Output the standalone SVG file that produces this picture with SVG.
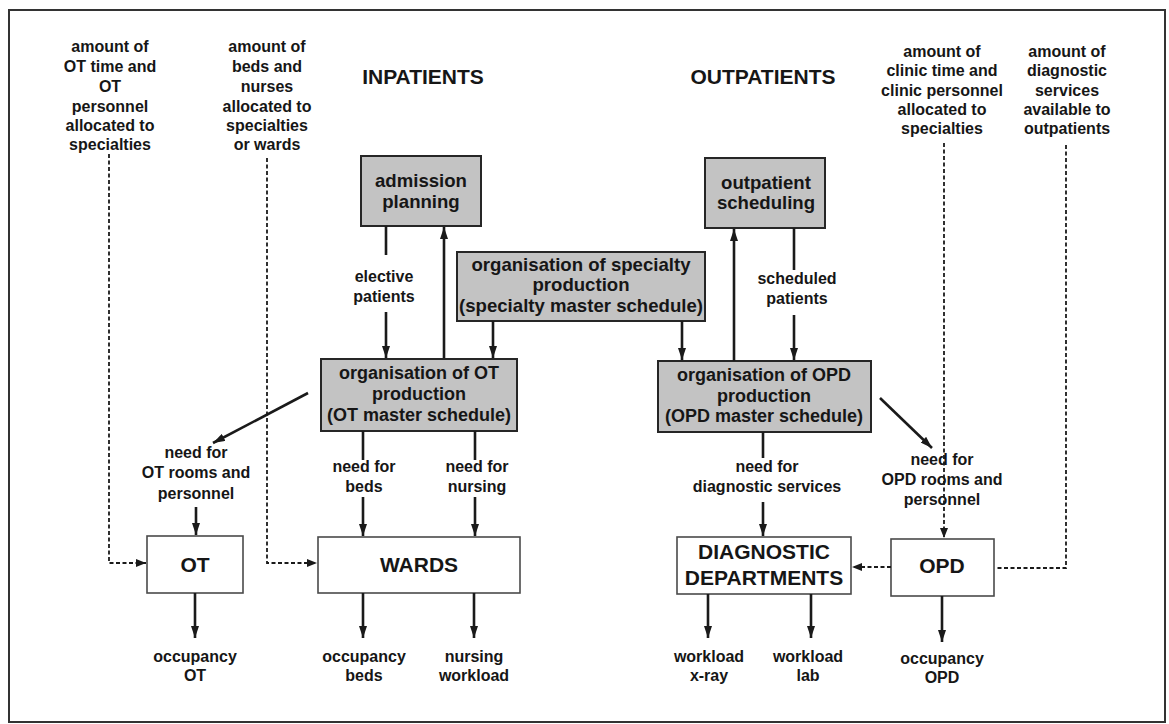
<svg xmlns="http://www.w3.org/2000/svg" width="1169" height="724" viewBox="0 0 1169 724">
  <style>
    text { font-family: "Liberation Sans", Arial, Helvetica, sans-serif; font-weight: bold; fill: #161616; text-anchor: middle; }
    .lbl { font-size: 16px; }
    .box { font-size: 18px; }
    .wide { font-size: 18.6px; }
    .big { font-size: 21px; }
    .title { font-size: 21px; }
    .shade { fill: #c3c3c3; stroke: #262626; stroke-width: 2; }
    .plain { fill: #ffffff; stroke: #4a4a4a; stroke-width: 1.6; }
    .flow { fill: none; stroke: #1a1a1a; stroke-width: 2.6; }
    .dash { fill: none; stroke: #1a1a1a; stroke-width: 1.8; stroke-dasharray: 4 2.5; }
  </style>
  <defs>
    <marker id="arrow" viewBox="0 0 12 8" refX="12" refY="4" markerWidth="12" markerHeight="8" markerUnits="userSpaceOnUse" orient="auto">
      <path d="M0,0 L12,4 L0,8 z" fill="#1a1a1a"/>
    </marker>
    <marker id="arrowSmall" viewBox="0 0 10 8" refX="10" refY="4" markerWidth="10" markerHeight="8" markerUnits="userSpaceOnUse" orient="auto">
      <path d="M0,0 L10,4 L0,8 z" fill="#1a1a1a"/>
    </marker>
  </defs>

  <rect width="1169" height="724" fill="#ffffff"/>
  <!-- outer frame -->
  <rect x="9" y="10" width="1156" height="712" fill="none" stroke="#333" stroke-width="2"/>

  <!-- section headings -->
  <text class="title" x="423" y="84">INPATIENTS</text>
  <text class="title" x="763" y="84">OUTPATIENTS</text>

  <!-- capacity inputs -->
  <g id="in-ot-capacity">
    <text class="lbl" x="110" y="52">amount of</text>
    <text class="lbl" x="110" y="72">OT time and</text>
    <text class="lbl" x="110" y="92">OT</text>
    <text class="lbl" x="110" y="112">personnel</text>
    <text class="lbl" x="110" y="131">allocated to</text>
    <text class="lbl" x="110" y="150">specialties</text>
  </g>
  <g id="in-ward-capacity">
    <text class="lbl" x="267" y="52">amount of</text>
    <text class="lbl" x="267" y="72">beds and</text>
    <text class="lbl" x="267" y="92">nurses</text>
    <text class="lbl" x="267" y="112">allocated to</text>
    <text class="lbl" x="267" y="131">specialties</text>
    <text class="lbl" x="267" y="150">or wards</text>
  </g>
  <g id="in-clinic-capacity">
    <text class="lbl" x="942" y="57">amount of</text>
    <text class="lbl" x="942" y="76">clinic time and</text>
    <text class="lbl" x="942" y="96">clinic personnel</text>
    <text class="lbl" x="942" y="115">allocated to</text>
    <text class="lbl" x="942" y="134">specialties</text>
  </g>
  <g id="in-diagnostic-capacity">
    <text class="lbl" x="1067" y="57">amount of</text>
    <text class="lbl" x="1067" y="76">diagnostic</text>
    <text class="lbl" x="1067" y="96">services</text>
    <text class="lbl" x="1067" y="115">available to</text>
    <text class="lbl" x="1067" y="134">outpatients</text>
  </g>

  <!-- planning boxes -->
  <g id="admission-planning">
    <rect class="shade" x="361" y="156" width="120" height="70"/>
    <text class="wide" x="421" y="187">admission</text>
    <text class="wide" x="421" y="208">planning</text>
  </g>
  <g id="outpatient-scheduling">
    <rect class="shade" x="705" y="158" width="120" height="70"/>
    <text class="wide" x="766" y="189">outpatient</text>
    <text class="wide" x="766" y="209">scheduling</text>
  </g>
  <g id="specialty-production">
    <rect class="shade" x="457" y="252" width="248" height="69"/>
    <text class="wide" x="581" y="271">organisation of specialty</text>
    <text class="wide" x="581" y="291">production</text>
    <text class="wide" x="581" y="312">(specialty master schedule)</text>
  </g>
  <g id="ot-production">
    <rect class="shade" x="321" y="359" width="196" height="72"/>
    <text class="box" x="419" y="379">organisation of OT</text>
    <text class="box" x="419" y="400">production</text>
    <text class="box" x="419" y="421">(OT master schedule)</text>
  </g>
  <g id="opd-production">
    <rect class="shade" x="658" y="361" width="213" height="71"/>
    <text class="box" x="764" y="381">organisation of OPD</text>
    <text class="box" x="764" y="402">production</text>
    <text class="box" x="764" y="422">(OPD master schedule)</text>
  </g>

  <!-- departments -->
  <g id="ot">
    <rect class="plain" x="147" y="536" width="96" height="57"/>
    <text class="big" x="195" y="572">OT</text>
  </g>
  <g id="wards">
    <rect class="plain" x="318" y="537" width="202" height="56"/>
    <text class="big" x="419" y="572">WARDS</text>
  </g>
  <g id="diagnostic-departments">
    <rect class="plain" x="677" y="537" width="174" height="57"/>
    <text class="big" x="764" y="559">DIAGNOSTIC</text>
    <text class="big" x="764" y="585">DEPARTMENTS</text>
  </g>
  <g id="opd">
    <rect class="plain" x="891" y="539" width="103" height="57"/>
    <text class="big" x="942" y="573">OPD</text>
  </g>

  <!-- flow labels -->
  <g id="flow-labels">
    <text class="lbl" x="384" y="282">elective</text>
    <text class="lbl" x="384" y="302">patients</text>
    <text class="lbl" x="797" y="284">scheduled</text>
    <text class="lbl" x="797" y="304">patients</text>
    <text class="lbl" x="196" y="458">need for</text>
    <text class="lbl" x="196" y="478">OT rooms and</text>
    <text class="lbl" x="196" y="499">personnel</text>
    <text class="lbl" x="364" y="472">need for</text>
    <text class="lbl" x="364" y="492">beds</text>
    <text class="lbl" x="477" y="472">need for</text>
    <text class="lbl" x="477" y="492">nursing</text>
    <text class="lbl" x="767" y="472">need for</text>
    <text class="lbl" x="767" y="492">diagnostic services</text>
    <text class="lbl" x="942" y="465">need for</text>
    <text class="lbl" x="942" y="485">OPD rooms and</text>
    <text class="lbl" x="942" y="505">personnel</text>
  </g>

  <!-- outputs -->
  <g id="out-ot">
    <text class="lbl" x="195" y="662">occupancy</text>
    <text class="lbl" x="195" y="681">OT</text>
  </g>
  <g id="out-beds">
    <text class="lbl" x="364" y="662">occupancy</text>
    <text class="lbl" x="364" y="681">beds</text>
  </g>
  <g id="out-nursing">
    <text class="lbl" x="474" y="662">nursing</text>
    <text class="lbl" x="474" y="681">workload</text>
  </g>
  <g id="out-xray">
    <text class="lbl" x="709" y="662">workload</text>
    <text class="lbl" x="709" y="681">x-ray</text>
  </g>
  <g id="out-lab">
    <text class="lbl" x="808" y="662">workload</text>
    <text class="lbl" x="808" y="681">lab</text>
  </g>
  <g id="out-opd">
    <text class="lbl" x="942" y="664">occupancy</text>
    <text class="lbl" x="942" y="683">OPD</text>
  </g>

  <!-- connectors -->
  <g id="connectors">
    <!-- capacity allocations (dashed) -->
    <path class="dash" d="M109,154 V563 H146" marker-end="url(#arrowSmall)"/>
    <path class="dash" d="M267,158 V563 H317" marker-end="url(#arrowSmall)"/>
    <path class="dash" d="M944,143 V538" marker-end="url(#arrowSmall)"/>
    <path class="dash" d="M1066,145 V568 H995"/>
    <path class="dash" d="M891,567 H852" marker-end="url(#arrowSmall)"/>

    <!-- inpatient planning -->
    <path class="flow" d="M386,226 V255"/>
    <path class="flow" d="M386,312 V358" marker-end="url(#arrow)"/>
    <path class="flow" d="M444,358 V227" marker-end="url(#arrow)"/>
    <path class="flow" d="M493,321 V358" marker-end="url(#arrow)"/>
    <path class="flow" d="M682,321 V360" marker-end="url(#arrow)"/>

    <!-- outpatient planning -->
    <path class="flow" d="M734,361 V229" marker-end="url(#arrow)"/>
    <path class="flow" d="M794,228 V270"/>
    <path class="flow" d="M794,315 V360" marker-end="url(#arrow)"/>

    <!-- OT production needs -->
    <path class="flow" d="M308,393 L213,443" marker-end="url(#arrow)"/>
    <path class="flow" d="M196,507 V535" marker-end="url(#arrow)"/>
    <path class="flow" d="M363,431 V460"/>
    <path class="flow" d="M363,497 V536" marker-end="url(#arrow)"/>
    <path class="flow" d="M475,431 V460"/>
    <path class="flow" d="M475,497 V536" marker-end="url(#arrow)"/>

    <!-- OPD production needs -->
    <path class="flow" d="M763,432 V458"/>
    <path class="flow" d="M763,502 V536" marker-end="url(#arrow)"/>
    <path class="flow" d="M880,398 L932,448" marker-end="url(#arrow)"/>

    <!-- workload outputs -->
    <path class="flow" d="M195,593 V638" marker-end="url(#arrow)"/>
    <path class="flow" d="M363,593 V638" marker-end="url(#arrow)"/>
    <path class="flow" d="M474,593 V638" marker-end="url(#arrow)"/>
    <path class="flow" d="M708,594 V638" marker-end="url(#arrow)"/>
    <path class="flow" d="M811,594 V638" marker-end="url(#arrow)"/>
    <path class="flow" d="M942,596 V642" marker-end="url(#arrow)"/>
  </g>
</svg>
